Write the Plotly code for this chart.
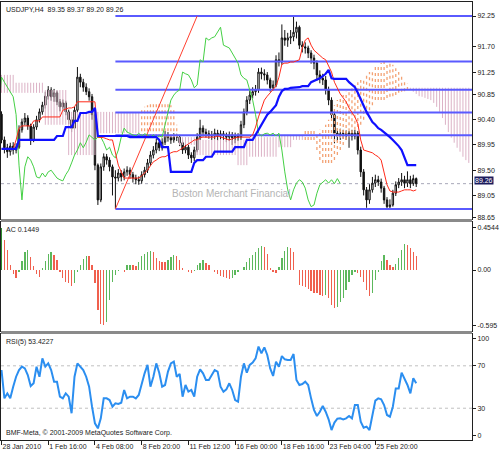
import plotly.graph_objects as go

# ---------------- data ----------------
SYMBOL = "USDJPY,H4"
TIME_LABEL_BARS = [0, 16, 32, 48, 64, 80, 96, 112, 128]
TIME_LABELS = ["28 Jan 2010", "1 Feb 16:00", "4 Feb 08:00", "8 Feb 20:00", "11 Feb 12:00",
               "16 Feb 00:00", "18 Feb 16:00", "23 Feb 04:00", "25 Feb 20:00"]
PRICE_TICKS = [92.25, 91.70, 91.25, 90.85, 90.40, 89.95, 89.50, 89.05, 88.65]

opens = [90.50, 90.04, 89.90, 89.83, 89.93, 89.86, 89.91, 90.22, 90.36, 90.43,
         90.29, 90.04, 90.27, 90.40, 90.54, 90.66, 90.82, 90.93, 90.81, 90.88,
         90.72, 90.63, 90.70, 90.54, 90.40, 90.25, 90.57, 91.16, 91.07, 90.98,
         90.90, 90.81, 90.49, 89.59, 88.97, 89.56, 89.74, 89.68, 89.56, 89.38,
         89.36, 89.45, 89.38, 89.47, 89.50, 89.42, 89.36, 89.33, 89.31, 89.42,
         89.50, 89.63, 89.77, 89.86, 89.99, 89.90, 90.00, 90.13, 90.08, 90.04,
         90.09, 90.09, 89.99, 89.86, 89.91, 89.77, 89.72, 89.86, 90.09, 90.25,
         90.18, 90.15, 90.13, 90.11, 90.16, 90.11, 90.15, 90.13, 90.09, 90.13,
         90.08, 90.11, 90.09, 90.31, 90.54, 90.75, 90.84, 90.90, 90.93, 91.25,
         91.22, 91.20, 91.11, 90.97, 91.02, 91.47, 91.43, 91.86, 91.82, 91.86,
         91.88, 91.96, 92.05, 91.73, 91.70, 91.68, 91.59, 91.50, 91.41, 91.20,
         91.14, 91.11, 90.93, 90.75, 90.49, 90.16, 90.11, 90.15, 90.16, 90.13,
         90.16, 90.11, 90.16, 89.86, 89.47, 89.15, 88.97, 89.15, 89.27, 89.33,
         89.29, 89.18, 88.97, 88.85, 88.88, 89.09, 89.24, 89.29, 89.33, 89.27,
         89.33, 89.26, 89.35]
highs = [90.55, 90.10, 89.97, 89.99, 90.00, 89.98, 90.30, 90.42, 90.52, 90.48,
         90.33, 90.32, 90.47, 90.60, 90.72, 90.90, 91.00, 90.98, 90.95, 90.92,
         90.77, 90.76, 90.74, 90.58, 90.45, 90.63, 91.34, 91.22, 91.13, 91.05,
         90.96, 90.86, 90.55, 89.62, 89.62, 89.80, 89.79, 89.73, 89.60, 89.50,
         89.52, 89.50, 89.53, 89.57, 89.55, 89.47, 89.42, 89.39, 89.48, 89.56,
         89.70, 89.84, 89.93, 90.06, 90.04, 90.07, 90.20, 90.18, 90.12, 90.16,
         90.15, 90.13, 90.03, 89.97, 89.95, 89.82, 89.92, 90.16, 90.40, 90.30,
         90.24, 90.21, 90.20, 90.24, 90.22, 90.21, 90.20, 90.17, 90.19, 90.18,
         90.17, 90.16, 90.38, 90.60, 90.82, 90.92, 90.98, 91.02, 91.32, 91.33,
         91.30, 91.25, 91.15, 91.10, 91.55, 91.60, 92.10, 92.00, 91.95, 92.00,
         92.25, 92.15, 92.08, 91.80, 91.78, 91.72, 91.64, 91.56, 91.46, 91.28,
         91.22, 91.18, 90.99, 90.80, 90.55, 90.25, 90.24, 90.22, 90.21, 90.20,
         90.22, 90.22, 90.20, 89.92, 89.52, 89.20, 89.25, 89.38, 89.42, 89.40,
         89.35, 89.22, 89.02, 88.98, 89.15, 89.30, 89.36, 89.45, 89.40, 89.48,
         89.40, 89.42, 89.37]
lows = [89.98, 89.80, 89.72, 89.76, 89.78, 89.80, 89.88, 90.17, 90.30, 90.22,
        89.95, 90.00, 90.22, 90.35, 90.49, 90.60, 90.76, 90.74, 90.72, 90.66,
        90.55, 90.58, 90.48, 90.32, 90.18, 90.21, 90.52, 90.98, 90.90, 90.84,
        90.74, 90.40, 89.50, 88.88, 88.93, 89.49, 89.60, 89.48, 89.05, 88.81,
        89.30, 89.30, 89.32, 89.40, 89.35, 89.28, 89.25, 89.24, 89.26, 89.37,
        89.45, 89.58, 89.71, 89.80, 89.84, 89.85, 89.95, 90.01, 89.97, 89.99,
        90.02, 89.93, 89.79, 89.80, 89.70, 89.63, 89.66, 89.82, 90.04, 90.10,
        90.08, 90.06, 90.04, 90.05, 90.03, 90.05, 90.04, 90.00, 90.02, 89.95,
        89.98, 90.02, 90.04, 90.25, 90.48, 90.68, 90.78, 90.83, 90.88, 91.12,
        91.10, 91.03, 90.90, 90.92, 90.98, 91.35, 91.38, 91.72, 91.70, 91.75,
        91.80, 91.85, 91.66, 91.60, 91.58, 91.50, 91.40, 91.30, 91.10, 91.05,
        91.02, 90.85, 90.66, 90.40, 89.98, 90.02, 90.04, 90.06, 90.04, 89.90,
        90.03, 90.05, 89.78, 89.38, 89.05, 88.83, 88.90, 89.10, 89.20, 89.22,
        89.10, 88.90, 88.81, 88.82, 88.85, 89.04, 89.18, 89.22, 89.18, 89.20,
        89.18, 89.22, 89.20]
closes = [90.04, 89.90, 89.83, 89.93, 89.86, 89.91, 90.22, 90.36, 90.43, 90.29,
          90.04, 90.27, 90.40, 90.54, 90.66, 90.82, 90.93, 90.81, 90.88, 90.72,
          90.63, 90.70, 90.54, 90.40, 90.25, 90.57, 91.16, 91.07, 90.98, 90.90,
          90.81, 90.49, 89.59, 88.97, 89.56, 89.74, 89.68, 89.56, 89.38, 89.36,
          89.45, 89.38, 89.47, 89.50, 89.42, 89.36, 89.33, 89.31, 89.42, 89.50,
          89.63, 89.77, 89.86, 89.99, 89.90, 90.00, 90.13, 90.08, 90.04, 90.09,
          90.09, 89.99, 89.86, 89.91, 89.77, 89.72, 89.86, 90.09, 90.25, 90.18,
          90.15, 90.13, 90.11, 90.16, 90.11, 90.15, 90.13, 90.09, 90.13, 90.08,
          90.11, 90.09, 90.31, 90.54, 90.75, 90.84, 90.90, 90.93, 91.25, 91.22,
          91.20, 91.11, 90.97, 91.02, 91.47, 91.43, 91.86, 91.82, 91.86, 91.88,
          91.96, 92.05, 91.73, 91.70, 91.68, 91.59, 91.50, 91.41, 91.20, 91.14,
          91.11, 90.93, 90.75, 90.49, 90.16, 90.11, 90.15, 90.16, 90.13, 90.16,
          90.11, 90.16, 89.86, 89.47, 89.15, 88.97, 89.15, 89.27, 89.33, 89.29,
          89.18, 88.97, 88.85, 88.88, 89.09, 89.24, 89.29, 89.33, 89.27, 89.33,
          89.26, 89.35, 89.26]

tenkan = [89.88, 89.88, 89.88, 89.88, 89.88, 90.04, 90.25, 90.29, 90.29, 90.29,
          90.29, 90.38, 90.38, 90.38, 90.45, 90.45, 90.45, 90.45, 90.45, 90.45,
          90.45, 90.57, 90.59, 90.61, 90.61, 90.63, 90.72, 90.72, 90.72, 90.72,
          90.72, 90.72, 90.72, 90.09, 90.09, 90.08, 90.06, 90.04, 90.04, 89.81,
          89.59, 89.47, 89.36, 89.36, 89.36, 89.36, 89.36, 89.36, 89.40, 89.45,
          89.50, 89.58, 89.65, 89.68, 89.72, 89.74, 89.74, 89.77, 89.81, 89.83,
          89.83, 89.86, 89.90, 89.93, 89.97, 90.00, 90.04, 90.04, 90.08, 90.09,
          90.09, 90.08, 90.08, 90.09, 90.11, 90.09, 90.08, 90.06, 90.04, 90.06,
          90.08, 90.09, 90.09, 90.09, 90.09, 90.09, 90.13, 90.27, 90.45, 90.61,
          90.75, 90.82, 90.88, 90.93, 91.00, 91.16, 91.39, 91.41, 91.41, 91.43,
          91.43, 91.45, 91.47, 91.68, 91.82, 91.86, 91.73, 91.64, 91.59, 91.54,
          91.50, 91.47, 91.36, 91.25, 91.07, 90.97, 90.86, 90.79, 90.72, 90.61,
          90.52, 90.45, 90.33, 90.04, 89.86, 89.84, 89.83, 89.81, 89.77, 89.74,
          89.68, 89.47, 89.24, 89.13, 89.11, 89.11, 89.11, 89.13, 89.15, 89.15,
          89.15, 89.13, 89.15]
kijun = [89.88, 89.88, 89.88, 89.88, 89.88, 89.88, 90.04, 90.04, 90.04, 90.04,
         90.04, 90.04, 90.04, 90.04, 90.04, 90.04, 90.04, 90.04, 90.04, 90.11,
         90.11, 90.11, 90.27, 90.27, 90.27, 90.38, 90.38, 90.52, 90.52, 90.52,
         90.54, 90.54, 90.61, 90.11, 90.11, 90.11, 90.11, 90.11, 90.11, 90.11,
         90.11, 90.11, 90.11, 90.11, 90.09, 90.09, 90.09, 90.09, 90.09, 90.09,
         90.09, 90.09, 90.09, 90.09, 90.04, 89.91, 89.91, 89.91, 89.47, 89.47,
         89.47, 89.47, 89.47, 89.47, 89.47, 89.47, 89.63, 89.68, 89.68, 89.68,
         89.74, 89.74, 89.74, 89.83, 89.83, 89.83, 89.83, 89.83, 89.83, 89.83,
         89.91, 89.91, 89.91, 89.91, 90.04, 90.04, 90.04, 90.13, 90.22, 90.31,
         90.40, 90.49, 90.54, 90.61, 90.66, 90.81, 90.91, 90.95, 90.95, 90.97,
         90.97, 90.98, 90.98, 91.00, 91.00, 91.00, 91.07, 91.09, 91.11, 91.14,
         91.18, 91.22, 91.29, 91.14, 91.13, 91.13, 91.13, 91.13, 91.13, 91.07,
         91.02, 90.98, 90.88, 90.75, 90.65, 90.54, 90.45, 90.36, 90.31, 90.25,
         90.22, 90.18, 90.13, 90.09, 90.04, 89.99, 89.93, 89.86, 89.74, 89.59,
         89.59, 89.59, 89.59]
# Senkou spans, already displaced 26 bars ahead (index = bar on the chart)
span_a = [90.88, 90.88, 90.88, 90.88, 90.88, 90.88, 90.88, 90.88, 90.88, 90.88,
          90.88, 90.88, 90.88, 90.88, 90.88, 90.31, 90.31, 90.31, 90.31, 90.31,
          90.31, 90.31, 90.31, 89.77, 89.77, 89.77, 89.77, 89.77, 89.77, 89.77,
          89.77, 89.77, 89.77, 90.16, 90.16, 90.16, 90.16, 90.16, 90.16, 90.16,
          90.16, 90.16, 90.16, 90.16, 90.16, 90.16, 90.16, 90.16, 90.57, 90.63,
          90.66, 90.70, 90.70, 90.70, 90.70, 90.70, 90.70, 90.70, 90.66, 90.57,
          90.31, 89.95, 89.95, 89.95, 89.95, 89.95, 89.95, 89.77, 89.77, 89.77,
          89.77, 89.77, 89.77, 89.77, 89.77, 89.77, 89.77, 89.77, 89.77, 89.77,
          89.77, 89.59, 89.59, 89.59, 89.59, 89.74, 89.74, 89.74, 89.74, 89.74,
          89.74, 89.74, 89.74, 89.74, 89.74, 89.91, 89.91, 89.91, 89.91, 89.91,
          90.04, 90.04, 90.04, 90.04, 90.22, 90.22, 90.22, 90.22, 90.16, 90.22,
          90.25, 90.31, 90.40, 90.57, 90.66, 90.75, 90.81, 90.84, 90.90, 90.93,
          90.98, 91.02, 91.07, 91.11, 91.14, 91.20, 91.25, 91.29, 91.34, 91.38,
          91.41, 91.43, 91.43, 91.41, 91.38, 91.32, 91.25, 91.18, 91.11, 91.04,
          90.95, 90.90, 90.86, 90.82, 90.81, 90.79, 90.77, 90.75, 90.70, 90.63,
          90.54, 90.43, 90.31, 90.18, 90.08, 89.99, 89.90, 89.83, 89.74, 89.68,
          89.63]
span_b = [91.20, 91.20, 91.20, 91.20, 91.20, 91.06, 91.06, 91.06, 91.06, 91.06,
          91.06, 91.06, 91.06, 91.06, 91.06, 90.93, 90.93, 90.93, 90.93, 90.93,
          90.93, 90.93, 90.93, 90.54, 90.54, 90.54, 90.54, 90.54, 90.54, 90.54,
          90.54, 90.54, 90.54, 90.54, 90.54, 90.54, 90.54, 90.54, 90.54, 90.54,
          90.54, 90.54, 90.54, 90.54, 90.54, 90.54, 90.54, 90.54, 90.09, 90.09,
          90.09, 90.09, 90.09, 90.09, 90.09, 90.09, 90.09, 90.09, 90.09, 90.09,
          90.09, 90.09, 90.09, 90.09, 90.09, 90.09, 90.09, 90.04, 90.04, 90.04,
          90.04, 90.04, 90.04, 90.04, 90.04, 90.04, 90.04, 90.04, 90.04, 90.04,
          90.04, 90.04, 90.04, 90.04, 90.04, 90.09, 90.09, 90.09, 90.09, 90.09,
          90.09, 90.09, 90.09, 90.09, 90.09, 90.13, 90.13, 90.13, 90.13, 90.13,
          90.13, 90.13, 90.13, 90.13, 90.04, 90.04, 90.04, 90.04, 89.86, 89.68,
          89.63, 89.63, 89.63, 89.63, 89.68, 89.77, 89.86, 89.95, 90.04, 90.09,
          90.16, 90.22, 90.27, 90.31, 90.40, 90.49, 90.57, 90.66, 90.75, 90.75,
          90.75, 90.75, 90.79, 90.81, 90.82, 90.84, 90.88, 90.90, 90.91, 90.93,
          90.97, 90.97, 90.97, 90.97, 90.97, 90.97, 90.97, 90.97, 90.97, 90.97,
          90.97, 90.97, 90.97, 90.97, 90.97, 90.97, 90.97, 90.97, 90.97, 90.97,
          90.97]
CHIKOU_SHIFT = 26

ac = [0.443, 0.32, 0.21, 0.05, -0.046, -0.089, -0.018, 0.10, 0.19, 0.21,
      0.14, 0.046, -0.046, -0.07, 0.02, 0.10, 0.167, 0.195, 0.16, 0.106,
      -0.02, -0.089, -0.124, -0.14, -0.167, -0.14, -0.02, 0.05, 0.12, 0.15,
      0.145, 0.05, -0.14, -0.43, -0.57, -0.59, -0.55, -0.32, -0.124, -0.05,
      -0.01, 0.005, -0.025, 0.05, 0.055, 0.05, 0.045, 0.09, 0.15, 0.167,
      0.19, 0.20, 0.195, 0.13, 0.096, 0.09, 0.08, 0.106, 0.14, 0.16,
      0.15, 0.106, 0.018, 0.005, -0.02, -0.035, -0.01, 0.05, 0.07, 0.106,
      0.07, 0.05, -0.005, -0.025, -0.046, -0.06, -0.07, -0.089, -0.092, -0.085,
      -0.05, -0.025, 0.005, 0.035, 0.09, 0.124, 0.16, 0.195, 0.23, 0.26,
      0.25, 0.167, 0.018, -0.018, -0.035, 0.035, 0.124, 0.20, 0.24, 0.23,
      0.195, 0.0, -0.16, -0.165, -0.18, -0.20, -0.22, -0.24, -0.25, -0.27,
      -0.28, -0.27, -0.30, -0.37, -0.40, -0.39, -0.34, -0.30, -0.21, -0.124,
      -0.05, -0.018, -0.03, -0.07, -0.124, -0.21, -0.28, -0.25, -0.106, -0.018,
      0.096, 0.16, 0.106, 0.05, 0.035, 0.06, 0.124, 0.21, 0.28, 0.27,
      0.23, 0.19, 0.1449]

rsi = [66.0, 39.3, 44.0, 39.3, 50.3, 59.7, 66.0, 69.2, 67.6, 61.3,
       50.9, 53.5, 69.2, 59.7, 77.0, 69.2, 72.3, 66.0, 55.0, 55.0,
       40.9, 39.3, 44.0, 40.9, 25.2, 59.7, 72.3, 69.2, 66.0, 59.7,
       50.3, 31.4, 15.7, 11.0, 20.4, 39.3, 39.3, 37.7, 31.4, 34.6,
       34.0, 35.2, 47.2, 39.3, 40.9, 40.9, 39.3, 42.5, 53.5, 62.9,
       70.8, 50.3, 59.7, 72.3, 63.5, 50.3, 51.9, 64.5, 72.3, 73.9,
       59.7, 62.3, 40.9, 51.9, 45.6, 47.2, 40.9, 59.7, 66.7, 62.9,
       56.6, 56.6, 61.3, 66.0, 64.5, 50.3, 45.6, 47.8, 53.5, 47.2,
       37.7, 36.2, 59.7, 72.3, 63.5, 70.8, 73.0, 77.0, 88.1, 81.8,
       87.4, 80.2, 67.6, 60.4, 73.9, 69.2, 79.2, 76.1, 75.5, 75.5,
       81.1, 56.6, 51.9, 52.8, 55.0, 51.9, 39.3, 28.3, 22.6, 26.7,
       32.1, 26.7, 19.5, 9.4, 16.4, 20.1, 20.4, 19.5, 20.4, 22.6,
       20.4, 33.0, 33.0, 17.3, 11.6, 12.6, 9.4, 23.6, 37.1, 39.3,
       38.4, 33.0, 23.6, 22.0, 31.4, 48.7, 48.7, 63.5, 58.2, 51.9,
       44.0, 58.2, 53.4227]
RSI_LEVELS = [70, 30]

FIB_LOW, FIB_HIGH = 88.81, 92.25          # anchors of the Fibonacci tool
FIB_LOW_BAR, FIB_HIGH_BAR = 39, 67
FIB_LEVELS = [0.0, 23.6, 38.2, 50.0, 61.8, 100.0]

# ---------------- styling ----------------
FONT = "Liberation Sans, Arial, sans-serif"
n = len(closes)
bars = list(range(n))
X_RANGE = [-0.17, 161.1]
MAIN_DOM, AC_DOM, RSI_DOM = [0.5046, 1.0], [0.2489, 0.4977], [0.0, 0.2420]

fig = go.Figure()

# Kumo hatching: one vertical segment per bar between span A and span B
hx_up, hy_up, hx_dn, hy_dn = [], [], [], []
for i, (a, b) in enumerate(zip(span_a, span_b)):
    if a >= b:
        hx_up += [i, i, None]; hy_up += [b, a, None]
    else:
        hx_dn += [i, i, None]; hy_dn += [a, b, None]
fig.add_trace(go.Scatter(x=hx_dn, y=hy_dn, mode="lines", line=dict(color="#dcb2c6", width=1),
                         hoverinfo="skip", showlegend=False, xaxis="x", yaxis="y"))
fig.add_trace(go.Scatter(x=hx_up, y=hy_up, mode="lines", line=dict(color="#f3a274", width=1.3, dash="dot"),
                         hoverinfo="skip", showlegend=False, xaxis="x", yaxis="y"))

# Fibonacci levels and trend line
fib_prices = [FIB_HIGH - lv / 100.0 * (FIB_HIGH - FIB_LOW) for lv in FIB_LEVELS]
for lv, p in zip(FIB_LEVELS, fib_prices):
    fig.add_trace(go.Scatter(x=[FIB_LOW_BAR, X_RANGE[1]], y=[p, p], mode="lines",
                             line=dict(color="#5a5aff", width=2), hoverinfo="skip",
                             showlegend=False, xaxis="x", yaxis="y"))
    fig.add_annotation(x=0.995, xref="x domain", y=p, yref="y", text=f"{lv:.1f}",
                       showarrow=False, xanchor="right", yanchor="bottom", yshift=-1,
                       font=dict(family=FONT, size=7, color="#3030ff"))
fig.add_trace(go.Scatter(x=[FIB_LOW_BAR, FIB_HIGH_BAR], y=[FIB_LOW, FIB_HIGH], mode="lines",
                         line=dict(color="#ff4030", width=1), hoverinfo="skip",
                         showlegend=False, xaxis="x", yaxis="y"))

# Candles
fig.add_trace(go.Candlestick(
    x=bars, open=opens, high=highs, low=lows, close=closes,
    increasing=dict(line=dict(color="#111111", width=1), fillcolor="#ffffff"),
    decreasing=dict(line=dict(color="#111111", width=1), fillcolor="#111111"),
    whiskerwidth=0, hoverinfo="skip", showlegend=False, xaxis="x", yaxis="y"))

# Ichimoku lines
fig.add_trace(go.Scatter(x=[i - CHIKOU_SHIFT for i in bars], y=closes, mode="lines",
                         line=dict(color="#44d044", width=1), hoverinfo="skip",
                         showlegend=False, xaxis="x", yaxis="y"))
fig.add_trace(go.Scatter(x=bars, y=tenkan, mode="lines", line=dict(color="#ff2a1a", width=1),
                         hoverinfo="skip", showlegend=False, xaxis="x", yaxis="y"))
fig.add_trace(go.Scatter(x=bars, y=kijun, mode="lines", line=dict(color="#1010ff", width=2.2),
                         hoverinfo="skip", showlegend=False, xaxis="x", yaxis="y"))

# AC histogram
ac_colors = ["#2e8b2e"] + ["#5cb85c" if ac[i] > ac[i - 1] else "#f0604e" for i in range(1, n)]
fig.add_trace(go.Bar(x=bars, y=ac, width=0.45, marker=dict(color=ac_colors, line=dict(width=0)),
                     hoverinfo="skip", showlegend=False, xaxis="x2", yaxis="y2"))

# RSI
fig.add_trace(go.Scatter(x=bars, y=rsi, mode="lines", line=dict(color="#2b8ef0", width=2),
                         hoverinfo="skip", showlegend=False, xaxis="x3", yaxis="y3"))

shapes = []
# bid line
shapes.append(dict(type="line", xref="x domain", x0=0, x1=1, yref="y", y0=closes[-1], y1=closes[-1],
                   line=dict(color="#a8a8b8", width=1, dash="dot"), layer="below"))
for lv in RSI_LEVELS:
    shapes.append(dict(type="line", xref="x3 domain", x0=0, x1=1, yref="y3", y0=lv, y1=lv,
                       line=dict(color="#c0c0c0", width=1, dash="dot"), layer="below"))
# panel separators
for y0, y1 in [(AC_DOM[1], MAIN_DOM[0]), (RSI_DOM[1], AC_DOM[0])]:
    shapes.append(dict(type="rect", xref="paper", x0=0, x1=1, yref="paper", y0=y0, y1=y1,
                       fillcolor="#8a8a8a", line=dict(width=0)))

annotations = [
    dict(x=0, xref="x domain", y=1, yref="y domain", xanchor="left", yanchor="top", xshift=3, yshift=-2,
         text=f"{SYMBOL}  {opens[-1]:.2f} {highs[-1]:.2f} {lows[-1]:.2f} {closes[-1]:.2f}",
         showarrow=False, font=dict(family=FONT, size=7, color="#222222")),
    dict(x=0, xref="x2 domain", y=1, yref="y2 domain", xanchor="left", yanchor="top", xshift=3, yshift=-2,
         text=f"AC {ac[-1]:.4f}", showarrow=False, font=dict(family=FONT, size=7, color="#222222")),
    dict(x=0, xref="x3 domain", y=1, yref="y3 domain", xanchor="left", yanchor="top", xshift=3, yshift=-2,
         text=f"RSI(5) {rsi[-1]:.4f}", showarrow=False, font=dict(family=FONT, size=7, color="#222222")),
    dict(x=0, xref="x3 domain", y=0, yref="y3 domain", xanchor="left", yanchor="bottom", xshift=3, yshift=1,
         text="BMF-Meta, © 2001-2009 MetaQuotes Software Corp.", showarrow=False,
         font=dict(family=FONT, size=7, color="#222222")),
    dict(x=0.358, xref="x domain", y=0.12, yref="y domain", xanchor="left", yanchor="middle",
         text="Boston Merchant Financial",
         showarrow=False, font=dict(family=FONT, size=10, color="#b4b4b4")),
    dict(x=1, xref="x domain", y=closes[-1], yref="y", xanchor="left", xshift=2, text=f"{closes[-1]:.2f}",
         showarrow=False, bgcolor="#1c1c5c", borderpad=0, font=dict(family=FONT, size=7, color="#ffffff")),
]

axis_common = dict(showgrid=False, zeroline=False, showline=True, linecolor="#202020", linewidth=1,
                   mirror=True, automargin=False)
tick_font = dict(family=FONT, size=7, color="#222222")

fig.update_layout(
    width=500, height=453, margin=dict(l=1, r=28, t=2, b=13, autoexpand=False),
    paper_bgcolor="white", plot_bgcolor="white", showlegend=False,
    font=dict(family=FONT, size=7), shapes=shapes, annotations=annotations, bargap=0,
    xaxis=dict(domain=[0, 1], range=X_RANGE, anchor="y", showticklabels=False, ticks="",
               rangeslider=dict(visible=False), **axis_common),
    xaxis2=dict(domain=[0, 1], range=X_RANGE, anchor="y2", matches="x", showticklabels=False, ticks="",
                **axis_common),
    xaxis3=dict(domain=[0, 1], range=X_RANGE, anchor="y3", matches="x", tickmode="array",
                tickvals=TIME_LABEL_BARS, ticktext=TIME_LABELS, ticks="outside", ticklen=4,
                tickangle=0, tickcolor="#202020", ticklabelposition="outside right",
                tickfont=tick_font, **axis_common),
    yaxis=dict(domain=MAIN_DOM, range=[88.63, 92.50], anchor="x", side="right", tickmode="array",
               tickvals=PRICE_TICKS, ticktext=[f"{v:.2f}" for v in PRICE_TICKS], ticks="outside",
               ticklen=3, tickcolor="#202020", tickfont=tick_font, **axis_common),
    yaxis2=dict(domain=AC_DOM, range=[-0.649, 0.511], anchor="x2", side="right", tickmode="array",
                tickvals=[0.4544, 0.0, -0.595], ticktext=["0.4544", "0.00", "-0.595"], ticks="outside",
                ticklen=3, tickcolor="#202020", tickfont=tick_font, **axis_common),
    yaxis3=dict(domain=RSI_DOM, range=[0, 100], anchor="x3", side="right", tickmode="array",
                tickvals=[95.5, 70, 30, 4], ticktext=["100", "70", "30", "0"], ticks="outside",
                ticklen=3, tickcolor="#202020", tickfont=tick_font, **axis_common),
)

fig.write_html("out.html", config={"displayModeBar": False, "staticPlot": True},
               post_script="document.body.style.margin='0';document.body.style.overflow='hidden';")
